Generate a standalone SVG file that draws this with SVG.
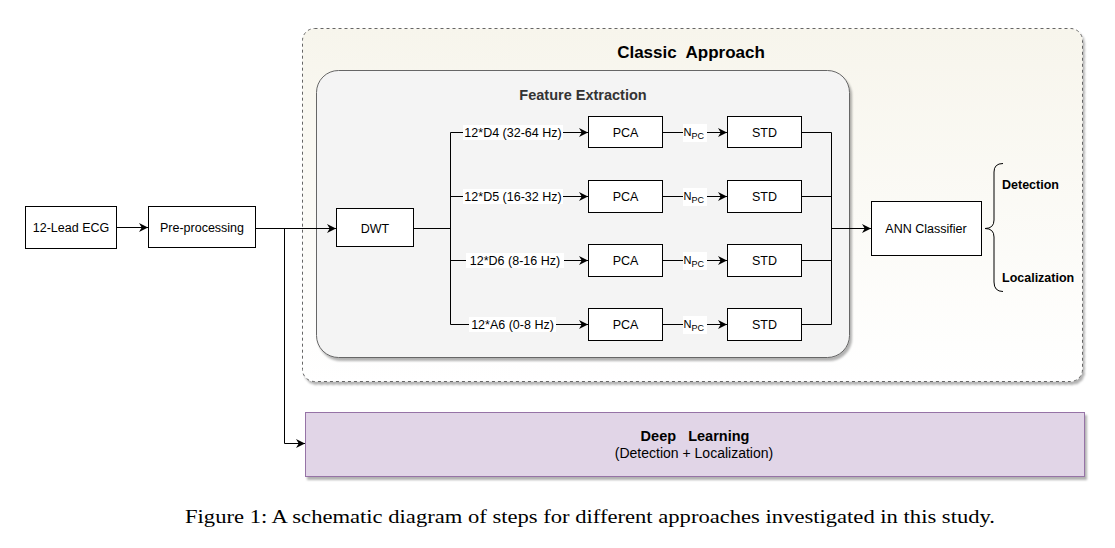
<svg xmlns="http://www.w3.org/2000/svg" width="1115" height="548" viewBox="0 0 1115 548">
  <defs>
    <style>
      .box { fill: #ffffff; stroke: #000000; stroke-width: 1; }
      .lbl { font-family: "Liberation Sans", Arial, sans-serif; font-size: 12.5px; fill: #000; text-anchor: middle; }
      .bold { font-family: "Liberation Sans", Arial, sans-serif; font-weight: bold; fill: #000; }
      .wire { fill: none; stroke: #000; stroke-width: 1; }
      .arrow { fill: none; stroke: #000; stroke-width: 1; marker-end: url(#arr); }
      .bg { fill: #ffffff; }
    </style>
    <marker id="arr" viewBox="0 0 10 10" refX="10" refY="5" markerWidth="10" markerHeight="9" markerUnits="userSpaceOnUse" orient="auto">
      <path d="M0,0 L10,5 L0,10 L3,5 z" fill="#000"/>
    </marker>
    <linearGradient id="cream" x1="0" y1="0" x2="0" y2="1">
      <stop offset="0" stop-color="#f7f5ec"/>
      <stop offset="1" stop-color="#ffffff"/>
    </linearGradient>
    <filter id="shadow" x="-5%" y="-5%" width="110%" height="115%">
      <feDropShadow dx="2" dy="3" stdDeviation="1" flood-color="#000" flood-opacity="0.3"/>
    </filter>
  </defs>

  <rect width="1115" height="548" fill="#ffffff"/>

  <!-- Classic Approach container -->
  <g id="classic-approach">
    <rect x="302.5" y="28.5" width="780" height="353" rx="12" ry="12" fill="url(#cream)" stroke="#666" stroke-width="1" stroke-dasharray="3,3" filter="url(#shadow)"/>
    <text class="bold" x="691" y="58" font-size="17" text-anchor="middle" xml:space="preserve">Classic  Approach</text>
  </g>

  <!-- Feature Extraction container -->
  <g id="feature-extraction">
    <rect x="316.5" y="70.5" width="533" height="287" rx="22" ry="22" fill="#f4f4f4" stroke="#666" stroke-width="1" filter="url(#shadow)"/>
    <text class="bold" x="583" y="100" font-size="14.5" text-anchor="middle" style="fill:#333">Feature Extraction</text>
  </g>

  <!-- Deep Learning -->
  <g id="deep-learning">
    <rect x="305.5" y="412.5" width="779" height="64" fill="#e1d5e7" stroke="#9673a6" stroke-width="1" filter="url(#shadow)"/>
    <text class="bold" x="695" y="441" font-size="14.5" text-anchor="middle" xml:space="preserve">Deep   Learning</text>
    <text class="lbl" x="694" y="458" style="font-size:14px">(Detection + Localization)</text>
  </g>

  <!-- Connectors -->
  <g id="connectors">
    <path class="arrow" d="M117,227.5 H148"/>
    <path class="arrow" d="M255,228.5 H336"/>
    <path class="arrow" d="M284.5,228.5 V443.5 H305"/>
    <path class="wire" d="M413,228.5 H450.5"/>
    <path class="wire" d="M450.5,132.5 V324.5"/>
    <path class="arrow" d="M450.5,132.5 H588"/>
    <path class="arrow" d="M450.5,196.5 H588"/>
    <path class="arrow" d="M450.5,260.5 H588"/>
    <path class="arrow" d="M450.5,324.5 H588"/>
    <path class="arrow" d="M663,132.5 H727"/>
    <path class="arrow" d="M663,196.5 H727"/>
    <path class="arrow" d="M663,260.5 H727"/>
    <path class="arrow" d="M663,324.5 H727"/>
    <path class="wire" d="M802,132.5 H831.5 M802,196.5 H831.5 M802,260.5 H831.5 M802,324.5 H831.5"/>
    <path class="wire" d="M831.5,132.5 V324.5"/>
    <path class="arrow" d="M831.5,228.5 H871"/>
    <!-- branch labels -->
    <rect class="bg" x="463" y="125" width="100" height="15"/>
    <text class="lbl" x="513" y="137">12*D4 (32-64 Hz)</text>
    <rect class="bg" x="463" y="189" width="100" height="15"/>
    <text class="lbl" x="513" y="201">12*D5 (16-32 Hz)</text>
    <rect class="bg" x="466" y="253" width="98" height="15"/>
    <text class="lbl" x="515" y="265">12*D6 (8-16 Hz)</text>
    <rect class="bg" x="469" y="317" width="87" height="15"/>
    <text class="lbl" x="512.5" y="329">12*A6 (0-8 Hz)</text>
    <!-- N_PC labels -->
    <rect class="bg" x="683" y="124" width="24" height="18"/>
    <text x="683.5" y="136" font-family="Liberation Sans, Arial, sans-serif" font-size="11">N<tspan font-size="9" dy="3">PC</tspan></text>
    <rect class="bg" x="683" y="188" width="24" height="18"/>
    <text x="683.5" y="200" font-family="Liberation Sans, Arial, sans-serif" font-size="11">N<tspan font-size="9" dy="3">PC</tspan></text>
    <rect class="bg" x="683" y="252" width="24" height="18"/>
    <text x="683.5" y="264" font-family="Liberation Sans, Arial, sans-serif" font-size="11">N<tspan font-size="9" dy="3">PC</tspan></text>
    <rect class="bg" x="683" y="316" width="24" height="18"/>
    <text x="683.5" y="328" font-family="Liberation Sans, Arial, sans-serif" font-size="11">N<tspan font-size="9" dy="3">PC</tspan></text>
  </g>

  <!-- Nodes -->
  <g id="ecg">
    <rect class="box" x="25.5" y="206.5" width="91" height="42"/>
    <text class="lbl" x="71" y="232">12-Lead ECG</text>
  </g>
  <g id="preprocessing">
    <rect class="box" x="148.5" y="206.5" width="107" height="41"/>
    <text class="lbl" x="202" y="232">Pre-processing</text>
  </g>
  <g id="dwt">
    <rect class="box" x="336.5" y="208.5" width="77" height="38"/>
    <text class="lbl" x="375" y="233">DWT</text>
  </g>
  <g id="pca1"><rect class="box" x="588.5" y="116.5" width="74" height="31"/><text class="lbl" x="625.5" y="137">PCA</text></g>
  <g id="pca2"><rect class="box" x="588.5" y="180.5" width="74" height="32"/><text class="lbl" x="625.5" y="201">PCA</text></g>
  <g id="pca3"><rect class="box" x="588.5" y="244.5" width="74" height="32"/><text class="lbl" x="625.5" y="265">PCA</text></g>
  <g id="pca4"><rect class="box" x="588.5" y="308.5" width="74" height="32"/><text class="lbl" x="625.5" y="329">PCA</text></g>
  <g id="std1"><rect class="box" x="727.5" y="116.5" width="74" height="31"/><text class="lbl" x="764.5" y="137">STD</text></g>
  <g id="std2"><rect class="box" x="727.5" y="180.5" width="74" height="32"/><text class="lbl" x="764.5" y="201">STD</text></g>
  <g id="std3"><rect class="box" x="727.5" y="244.5" width="74" height="32"/><text class="lbl" x="764.5" y="265">STD</text></g>
  <g id="std4"><rect class="box" x="727.5" y="308.5" width="74" height="32"/><text class="lbl" x="764.5" y="329">STD</text></g>
  <g id="ann">
    <rect class="box" x="871.5" y="201.5" width="110" height="54"/>
    <text class="lbl" x="926" y="233">ANN Classifier</text>
  </g>
  <g id="outputs">
    <path class="wire" d="M1003,163.5 Q994,163.5 994,172 L994,220 Q994,228.5 985,228.5 Q994,228.5 994,237 L994,282 Q994,291.5 1003,291.5"/>
    <text class="bold" x="1002" y="189" font-size="12.5">Detection</text>
    <text class="bold" x="1002" y="282" font-size="12.5">Localization</text>
  </g>

  <!-- Caption -->
  <text x="590" y="523" font-family="Liberation Serif, 'Times New Roman', serif" font-size="18" text-anchor="middle" textLength="810" lengthAdjust="spacingAndGlyphs">Figure 1: A schematic diagram of steps for different approaches investigated in this study.</text>
</svg>
